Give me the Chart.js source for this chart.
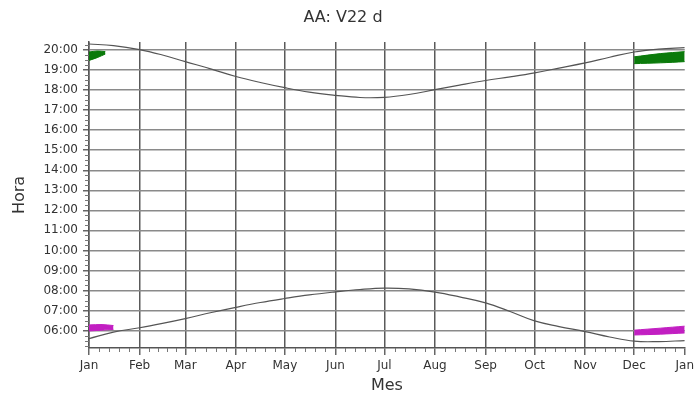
<!DOCTYPE html>
<html><head><meta charset="utf-8">
<script src="https://cdn.jsdelivr.net/npm/chart.js@4"></script>
<style>html,body{margin:0;padding:0;background:#fff}#wrap{width:698px;height:402px;position:relative}</style>
</head><body><div id="wrap"><canvas id="c"></canvas></div>
<script>
const monthLabels = ['Jan','Feb','Mar','Apr','May','Jun','Jul','Aug','Sep','Oct','Nov','Dec','Jan'];
const monthStartDays = [0,31,59,90,120,151,181,212,243,273,304,334,365];
const hourTicks = [6,7,8,9,10,11,12,13,14,15,16,17,18,19,20];

const curveDays    = [0,15,31,45,59,75,90,105,120,135,151,166,181,196,212,227,243,258,273,288,304,319,334,349,365];
const sunsetHours  = [20.3,20.22,20.02,19.75,19.42,19.05,18.68,18.38,18.12,17.9,17.74,17.63,17.64,17.78,18.02,18.25,18.48,18.66,18.86,19.1,19.36,19.64,19.9,20.04,20.12];
const sunriseHours = [5.6,5.92,6.14,6.36,6.6,6.9,7.16,7.4,7.6,7.78,7.93,8.05,8.12,8.08,7.92,7.68,7.38,6.95,6.48,6.2,5.95,5.68,5.47,5.45,5.5];

const greenLeftDays   = [0,5,10];
const greenLeftTop    = [19.9,19.95,19.92];
const greenLeftBottom = [19.48,19.62,19.8];
const greenRightDays   = [334,350,365];
const greenRightTop    = [19.66,19.82,19.92];
const greenRightBottom = [19.32,19.36,19.42];

const magentaLeftDays   = [0,8,15];
const magentaLeftTop    = [6.28,6.3,6.25];
const magentaLeftBottom = [5.98,6.02,6.06];
const magentaRightDays   = [334,350,365];
const magentaRightTop    = [6.02,6.12,6.22];
const magentaRightBottom = [5.78,5.82,5.88];

const yMin = 5.13, yMax = 20.4;
const GREEN = '#0b7a0b', MAGENTA = '#c21fc2';

const pts = (xs, ys) => xs.map((d,i)=>({x:d, y:ys[i]}));
function band(xs, top, bot, color){
  return [
    {data: pts(xs, top), borderColor: color, borderWidth: 1, pointRadius: 0, fill: false, tension: 0.3},
    {data: pts(xs, bot), borderColor: color, borderWidth: 1, pointRadius: 0, fill: '-1', backgroundColor: color, tension: 0.3}
  ];
}

const minorTicks = {
  id: 'minorTicks',
  afterDraw(chart){
    const {ctx, chartArea: a, scales: {x, y}} = chart;
    ctx.save();
    ctx.strokeStyle = '#777'; ctx.lineWidth = 1;
    ctx.beginPath();
    for (let i = 0; i < monthStartDays.length - 1; i++){
      const s = monthStartDays[i], e = monthStartDays[i+1];
      for (let k = 1; k < 5; k++){
        const px = Math.round(x.getPixelForValue(s + (e - s) * k / 5)) + 0.5;
        ctx.moveTo(px, a.bottom); ctx.lineTo(px, a.bottom + 4);
      }
    }
    for (let h = Math.ceil(yMin * 4) / 4; h <= yMax; h += 0.25){
      if (Math.abs(h - Math.round(h)) < 1e-6) continue;
      const py = Math.round(y.getPixelForValue(h)) + 0.5;
      ctx.moveTo(a.left - 4, py); ctx.lineTo(a.left, py);
    }
    ctx.stroke();
    ctx.restore();
  }
};

const datasets = [
  ...band(greenLeftDays, greenLeftTop, greenLeftBottom, GREEN),
  ...band(greenRightDays, greenRightTop, greenRightBottom, GREEN),
  ...band(magentaLeftDays, magentaLeftTop, magentaLeftBottom, MAGENTA),
  ...band(magentaRightDays, magentaRightTop, magentaRightBottom, MAGENTA),
  {data: pts(curveDays, sunsetHours), borderColor: '#555', borderWidth: 1.2, pointRadius: 0, fill: false, tension: 0.4},
  {data: pts(curveDays, sunriseHours), borderColor: '#555', borderWidth: 1.2, pointRadius: 0, fill: false, tension: 0.4}
];

const FONT = "'DejaVu Sans', sans-serif";
new Chart(document.getElementById('c'), {
  type: 'line',
  data: {datasets},
  plugins: [minorTicks],
  options: {
    responsive: true, maintainAspectRatio: false, animation: false,
    layout: {padding: {left: 0, right: 12, top: 0, bottom: 0}},
    plugins: {
      legend: {display: false}, tooltip: {enabled: false},
      title: {display: true, text: 'AA: V22 d', color: '#333', font: {family: FONT, size: 16, weight: 'normal'}, padding: {top: 8, bottom: 14.8}}
    },
    scales: {
      x: {
        type: 'linear', min: 0, max: 365,
        afterBuildTicks: s => { s.ticks = monthStartDays.map(v => ({value: v})); },
        afterFit: s => { s.height = 54; },
        ticks: {autoSkip: false, maxRotation: 0, color: '#333', font: {family: FONT, size: 12}, padding: 4,
          callback: (v) => monthLabels[monthStartDays.indexOf(v)]},
        grid: {color: ctx => (ctx.tick && ctx.tick.value === 365) ? 'rgba(0,0,0,0)' : '#5a5a5a', lineWidth: 1.5, tickLength: 7, tickColor: '#666'},
        border: {display: true, color: '#555', width: 1.5},
        title: {display: true, text: 'Mes', color: '#333', font: {family: FONT, size: 16}, padding: {top: 0, bottom: 7}}
      },
      y: {
        type: 'linear', min: yMin, max: yMax,
        afterBuildTicks: s => { s.ticks = hourTicks.map(v => ({value: v})); },
        afterFit: s => { s.width = 89; },
        ticks: {autoSkip: false, color: '#333', font: {family: FONT, size: 12}, padding: 5,
          callback: v => String(v).padStart(2, '0') + ':00'},
        grid: {color: '#8a8a8a', lineWidth: 1.5, tickLength: 6, tickColor: '#666'},
        border: {display: true, color: '#555', width: 1.5},
        title: {display: true, text: 'Hora', color: '#333', font: {family: FONT, size: 16}, padding: {top: 10, bottom: 0}}
      }
    }
  }
});
</script>
</body></html>
